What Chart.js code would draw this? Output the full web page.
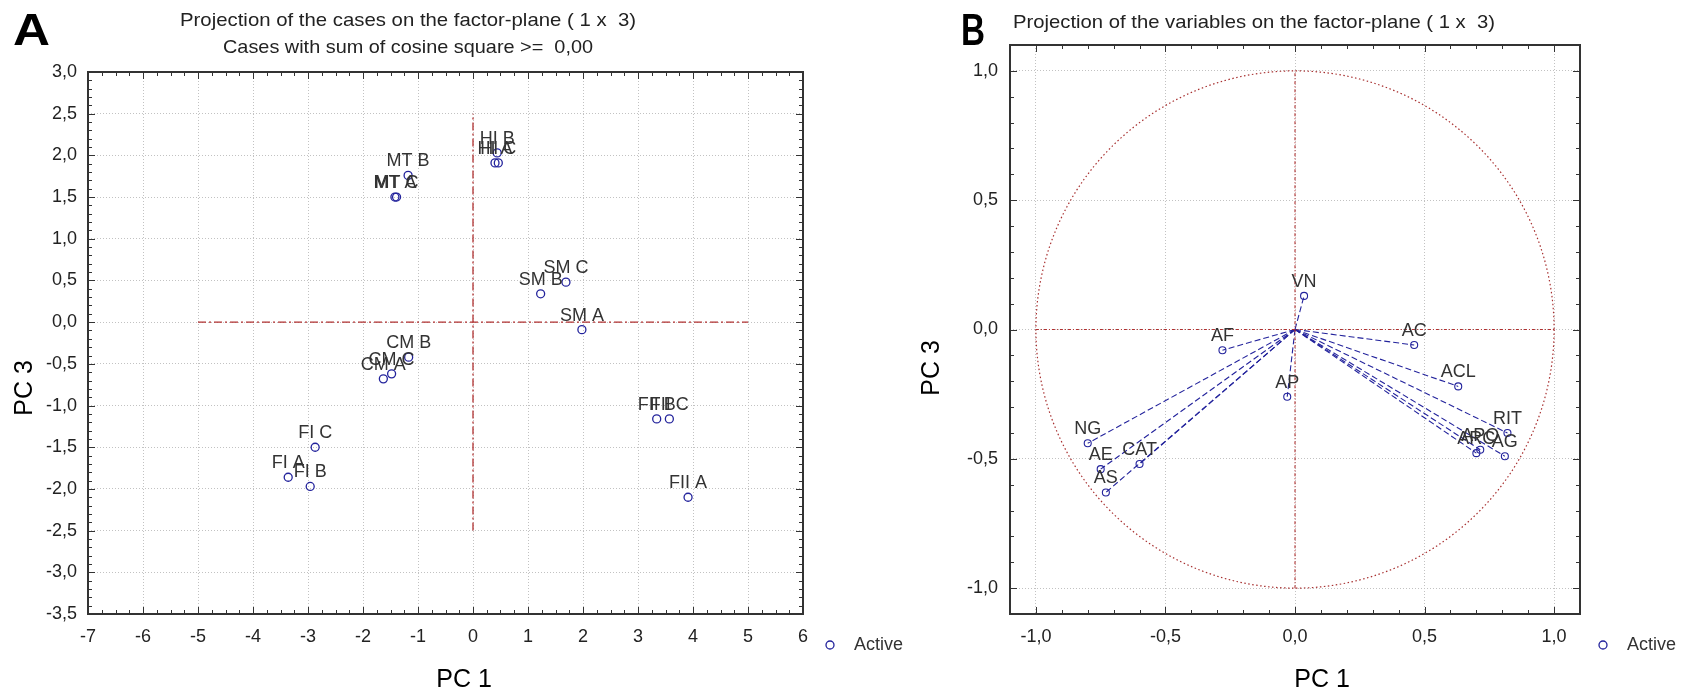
<!DOCTYPE html>
<html>
<head>
<meta charset="utf-8">
<script src="https://cdn.jsdelivr.net/npm/chart.js@4.4.0/dist/chart.umd.min.js"></script>
<style>
  html, body { margin: 0; padding: 0; background: #fff; overflow: hidden; }
  #wrap { position: relative; width: 1682px; height: 692px; }
  .box { position: absolute; top: 0; height: 692px; }
</style>
</head>
<body>
<div id="wrap">
  <div class="box" style="left:0;width:920px;z-index:1"><canvas id="chartA" width="920" height="692"></canvas></div>
  <div class="box" style="left:841px;width:841px;z-index:2"><canvas id="chartB" width="841" height="692"></canvas></div>
</div>
<script>
// panel A : cases on factor plane 1 x 3
const caseNames = ['MT A', 'MT B', 'MT C', 'HI A', 'HI B', 'HI C', 'SM A', 'SM B', 'SM C',
                   'CM A', 'CM B', 'CM C', 'FI A', 'FI B', 'FI C', 'FII A', 'FII B', 'FII C'];
const casePc1 = [-1.42, -1.18, -1.39, 0.40, 0.44, 0.46, 1.98, 1.23, 1.69,
                 -1.63, -1.17, -1.48, -3.36, -2.96, -2.87, 3.91, 3.34, 3.57];
const casePc3 = [1.50, 1.76, 1.50, 1.91, 2.03, 1.91, -0.09, 0.34, 0.48,
                 -0.68, -0.42, -0.62, -1.86, -1.97, -1.50, -2.10, -1.16, -1.16];
const xTicksA = [-7, -6, -5, -4, -3, -2, -1, 0, 1, 2, 3, 4, 5, 6];
const yTicksA = [-3.5, -3, -2.5, -2, -1.5, -1, -0.5, 0, 0.5, 1, 1.5, 2, 2.5, 3];
const refLineA1 = [-5, 5];     // PC1 span of horizontal reference
const refLineA3 = [-2.5, 2.5]; // PC3 span of vertical reference

// panel B : variables on factor plane 1 x 3
const varNames = ['VN', 'AC', 'ACL', 'AP', 'AF', 'NG', 'AE', 'CAT', 'AS', 'RIT', 'AG', 'ARC', 'APO'];
const varPc1 = [0.035, 0.46, 0.63, -0.03, -0.28, -0.80, -0.75, -0.60, -0.73, 0.82, 0.81, 0.70, 0.715];
const varPc3 = [0.13, -0.06, -0.22, -0.26, -0.08, -0.44, -0.54, -0.52, -0.63, -0.40, -0.49, -0.478, -0.465];
const ticksB = [-1, -0.5, 0, 0.5, 1];
const refLineB = [-1, 1];

const FONT = "'Liberation Sans', Arial, sans-serif";
const INK = '#222';
const BLUE = '#23239c';
const RED = '#b03030';

const comma = v => Number(v).toFixed(1).replace('.', ',');

// draw text squeezed/stretched to a given width
function fitText(ctx, text, x, y, w, align) {
  const m = ctx.measureText(text).width;
  ctx.save();
  ctx.translate(x, y);
  ctx.scale(w / m, 1);
  ctx.textAlign = align;
  ctx.fillText(text, 0, 0);
  ctx.restore();
}

function frameTicks(xMinor, yMinor) {
  return {
    id: 'frameTicks',
    afterDatasetsDraw(chart) {
      const { ctx, chartArea: a, scales: { x, y } } = chart;
      ctx.save();
      ctx.strokeStyle = '#333';
      ctx.lineWidth = 1;
      ctx.beginPath();
      const mark = (step, major, scale, horiz) => {
        const n = Math.round((scale.max - scale.min) / step);
        for (let i = 0; i <= n; i++) {
          const v = scale.min + i * step;
          const isMajor = major.some(t => Math.abs(t - v) < 1e-6);
          const len = isMajor ? 7 : 4;
          const p = Math.round(scale.getPixelForValue(v)) + 0.5;
          if (horiz) {
            ctx.moveTo(p, a.bottom); ctx.lineTo(p, a.bottom - len);
            ctx.moveTo(p, a.top); ctx.lineTo(p, a.top + len);
          } else {
            ctx.moveTo(a.left, p); ctx.lineTo(a.left + len, p);
            ctx.moveTo(a.right, p); ctx.lineTo(a.right - len, p);
          }
        }
      };
      mark(xMinor, x.ticks.map(t => t.value), x, true);
      mark(yMinor, y.ticks.map(t => t.value), y, false);
      ctx.stroke();
      ctx.lineWidth = 2;
      ctx.strokeRect(a.left, a.top, a.width, a.height);
      ctx.restore();
    }
  };
}

function pointLabels(first, names) {
  return {
    id: 'pointLabels',
    afterDatasetsDraw(chart) {
      const ctx = chart.ctx;
      ctx.save();
      ctx.font = '18px ' + FONT;
      ctx.fillStyle = '#333';
      ctx.textAlign = 'center';
      ctx.textBaseline = 'alphabetic';
      names.forEach((n, i) => {
        const el = first(chart, i);
        ctx.fillText(n, el.x, el.y - 9);
      });
      ctx.restore();
    }
  };
}

function decorations(o) {
  return {
    id: 'decorations',
    afterDraw(chart) {
      const ctx = chart.ctx;
      ctx.save();
      ctx.fillStyle = '#000';
      ctx.font = 'bold 45px ' + FONT;
      ctx.textBaseline = 'alphabetic';
      fitText(ctx, o.letter, o.letterX, 45, o.letterW, 'left');
      ctx.fillStyle = INK;
      ctx.font = '19px ' + FONT;
      o.titles.forEach(t => fitText(ctx, t.text, t.x, t.y, t.w, t.align));
      ctx.fillStyle = '#000';
      ctx.font = '25px ' + FONT;
      ctx.textAlign = 'center';
      ctx.textBaseline = 'middle';
      ctx.fillText('PC 1', o.xTitle[0], o.xTitle[1]);
      ctx.save();
      ctx.translate(o.yTitle[0], o.yTitle[1]);
      ctx.rotate(-Math.PI / 2);
      ctx.fillText('PC 3', 0, 0);
      ctx.restore();
      // legend
      ctx.strokeStyle = BLUE;
      ctx.lineWidth = 1.3;
      ctx.beginPath();
      ctx.arc(o.legend[0], o.legend[1], 4, 0, Math.PI * 2);
      ctx.stroke();
      ctx.fillStyle = '#333';
      ctx.font = '18px ' + FONT;
      ctx.textAlign = 'left';
      ctx.fillText('Active', o.legend[0] + 24, o.legend[1]);
      ctx.restore();
    }
  };
}

function axis(min, max, list, fmt, pad, size, isX) {
  return {
    type: 'linear', min: min, max: max,
    afterBuildTicks: s => { s.ticks = list.map(v => ({ value: v })); },
    afterFit: s => { if (isX) s.height = size; else s.width = size; },
    ticks: { font: { family: FONT, size: 18 }, color: INK, padding: pad, callback: fmt },
    grid: { color: '#c2c2c2', lineWidth: 1, drawTicks: false },
    border: { display: false, dash: [1, 2] }
  };
}

// ---------- chart A ----------
new Chart(document.getElementById('chartA'), {
  type: 'scatter',
  data: {
    datasets: [
      { type: 'line', data: refLineA1.map(v => ({ x: v, y: 0 })), borderColor: RED, borderWidth: 1.3,
        borderDash: [8, 3, 2, 3], pointRadius: 0 },
      { type: 'line', data: refLineA3.map(v => ({ x: 0, y: v })), borderColor: RED, borderWidth: 1.3,
        borderDash: [8, 3, 2, 3], pointRadius: 0 },
      { label: 'Active', data: caseNames.map((n, i) => ({ x: casePc1[i], y: casePc3[i] })),
        pointRadius: 4, pointBorderColor: BLUE, pointBackgroundColor: 'rgba(0,0,0,0)',
        pointBorderWidth: 1.3, showLine: false }
    ]
  },
  options: {
    responsive: false, animation: false, devicePixelRatio: 1,
    layout: { padding: { left: 0, right: 117, top: 72, bottom: 0 } },
    plugins: { legend: { display: false }, tooltip: { enabled: false } },
    scales: {
      x: axis(-7, 6, xTicksA, v => String(v), 12, 78, true),
      y: axis(-3.5, 3, yTicksA, comma, 11, 88, false)
    }
  },
  plugins: [
    frameTicks(0.25, 0.1),
    pointLabels((c, i) => c.getDatasetMeta(2).data[i], caseNames),
    decorations({
      letter: 'A', letterX: 13, letterW: 37,
      titles: [
        { text: 'Projection of the cases on the factor-plane ( 1 x  3)', x: 408, y: 26, w: 456, align: 'center' },
        { text: 'Cases with sum of cosine square >=  0,00', x: 408, y: 53, w: 370, align: 'center' }
      ],
      xTitle: [464, 680], yTitle: [25, 388], legend: [830, 645]
    })
  ]
});

// ---------- chart B ----------
const unitCircle = {
  id: 'unitCircle',
  beforeDatasetsDraw(chart) {
    const { ctx, scales: { x, y } } = chart;
    const cx = x.getPixelForValue(0), cy = y.getPixelForValue(0);
    const rx = x.getPixelForValue(1) - cx, ry = cy - y.getPixelForValue(1);
    ctx.save();
    ctx.strokeStyle = '#a83030';
    ctx.lineWidth = 1.2;
    ctx.setLineDash([1.5, 2.5]);
    ctx.beginPath();
    ctx.ellipse(cx, cy, rx, ry, 0, 0, Math.PI * 2);
    ctx.stroke();
    ctx.restore();
  }
};

const varSets = varNames.map((n, i) => ({
  type: 'line', label: n,
  data: [{ x: 0, y: 0 }, { x: varPc1[i], y: varPc3[i] }],
  borderColor: BLUE, borderWidth: 1.1, borderDash: [6, 3],
  pointRadius: [0, 3.5], pointBorderColor: BLUE, pointBackgroundColor: 'rgba(0,0,0,0)',
  pointBorderWidth: 1.1
}));

new Chart(document.getElementById('chartB'), {
  type: 'scatter',
  data: {
    datasets: [
      { type: 'line', data: refLineB.map(v => ({ x: v, y: 0 })), borderColor: RED, borderWidth: 1.1,
        borderDash: [3, 2, 1, 2], pointRadius: 0 },
      { type: 'line', data: refLineB.map(v => ({ x: 0, y: v })), borderColor: RED, borderWidth: 1.1,
        borderDash: [3, 2, 1, 2], pointRadius: 0 }
    ].concat(varSets)
  },
  options: {
    responsive: false, animation: false, devicePixelRatio: 1,
    layout: { padding: { left: 0, right: 102, top: 45, bottom: 0 } },
    plugins: { legend: { display: false }, tooltip: { enabled: false } },
    scales: {
      x: axis(-1.1, 1.1, ticksB, comma, 12, 78, true),
      y: axis(-1.1, 1.1, ticksB, comma, 12, 169, false)
    }
  },
  plugins: [
    unitCircle,
    frameTicks(0.1, 0.1),
    pointLabels((c, i) => c.getDatasetMeta(i + 2).data[1], varNames),
    decorations({
      letter: 'B', letterX: 120, letterW: 24,
      titles: [
        { text: 'Projection of the variables on the factor-plane ( 1 x  3)', x: 172, y: 28, w: 482, align: 'left' }
      ],
      xTitle: [481, 680], yTitle: [91, 368], legend: [762, 645]
    })
  ]
});
</script>
</body>
</html>
